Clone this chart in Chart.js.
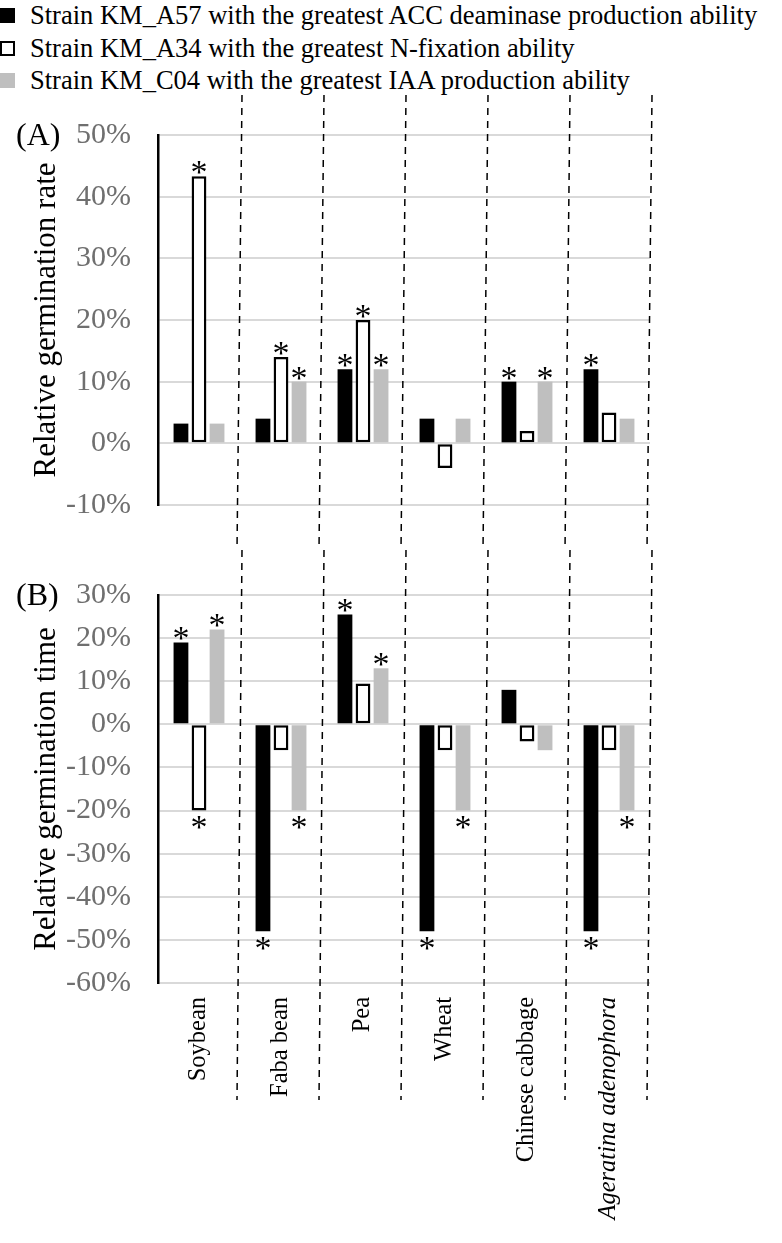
<!DOCTYPE html>
<html><head><meta charset="utf-8">
<script src="https://cdn.jsdelivr.net/npm/chart.js@4/dist/chart.umd.min.js"></script>
<style>
body{margin:0;width:782px;height:1243px;position:relative;background:#fff;font-family:"Liberation Serif",serif;overflow:hidden}
.lg{position:absolute;left:0;font-size:26.5px;color:#000;white-space:nowrap}
.sq{display:inline-block;width:15px;height:15px;margin-right:15px;vertical-align:1px;box-sizing:border-box}
#ca{position:absolute;left:0;top:90px}
#cb{position:absolute;left:0;top:550px}
</style></head><body>
<div class="lg" style="top:0px"><span class="sq" style="background:#000"></span>Strain KM_A57 with the greatest ACC deaminase production ability</div>
<div class="lg" style="top:33px"><span class="sq" style="border:2px solid #000;background:#fff"></span>Strain KM_A34 with the greatest N-fixation ability</div>
<div class="lg" style="top:65px"><span class="sq" style="background:#bfbfbf"></span>Strain KM_C04 with the greatest IAA production ability</div>
<canvas id="ca" width="782" height="460"></canvas>
<canvas id="cb" width="782" height="693"></canvas>
<script>
const categories=["Soybean","Faba bean","Pea","Wheat","Chinese cabbage","Ageratina adenophora"];
const seriesNames=["Strain KM_A57","Strain KM_A34","Strain KM_C04"];
const rateA57=[3.2,4,12,4,10,12];
const rateA34=[43.3,14,20,-4,2,5];
const rateC04=[3.2,10,12,4,10,4];
const rateSig=[[0,0,1,0,1,1],[1,1,1,0,0,0],[0,1,1,0,1,0]];
const timeA57=[19,-48,25.5,-48,8,-48];
const timeA34=[-20,-6,9.5,-6,-4,-6];
const timeC04=[22,-20,13,-20,-6,-20];
const timeSig=[[1,1,1,1,0,1],[1,0,0,0,0,0],[1,1,1,1,0,1]];
const ticksA=[-10,0,10,20,30,40,50];
const ticksB=[-60,-50,-40,-30,-20,-10,0,10,20,30];

const SERIF='"Liberation Serif", serif';
function ds(vals){
  return [
    {label:seriesNames[0],data:vals[0],backgroundColor:'#000',borderWidth:0},
    {label:seriesNames[1],data:vals[1],backgroundColor:'#fff',borderColor:'#000',borderWidth:2.5,borderSkipped:false},
    {label:seriesNames[2],data:vals[2],backgroundColor:'#bfbfbf',borderWidth:0}
  ].map(d=>Object.assign(d,{categoryPercentage:0.66,barPercentage:0.82}));
}
function deco(tag,sig,dashEnd){
  return {id:'deco'+tag,afterDatasetsDraw(c){
    const g=c.ctx,a=c.chartArea;
    g.save();
    g.fillStyle='#000';g.font='34px '+SERIF;g.textAlign='center';g.textBaseline='top';
    sig.forEach((row,di)=>{
      const m=c.getDatasetMeta(di);
      row.forEach((s,i)=>{
        if(!s)return;
        const el=m.data[i],v=c.data.datasets[di].data[i];
        if(v>=0) g.fillText('*',el.x,el.y-19);
        else g.fillText('*',el.x,el.y+2);
      });
    });
    g.strokeStyle='#000';g.lineWidth=1.5;g.setLineDash([7,6]);
    const w=(a.right-a.left)/6;
    for(let i=1;i<=6;i++){
      const x=a.left+i*w;
      g.beginPath();g.moveTo(x+2,dashEnd[0]);g.lineTo(x-3,dashEnd[1]);g.stroke();
    }
    g.setLineDash([]);
    g.font='32px '+SERIF;g.textAlign='left';g.textBaseline='middle';
    g.fillText(tag,16,a.top+2);
    g.restore();
  }};
}
function opts(min,max,ticks,title,showX){
  return {
    responsive:false,animation:false,
    layout:{padding:{top:37,right:132,bottom:showX?0:23,left:0}},
    plugins:{legend:{display:false},tooltip:{enabled:false}},
    scales:{
      x:{display:showX,grid:{display:false},border:{display:false},
        ticks:{maxRotation:90,minRotation:90,color:'#000',padding:6,
          font:(ctx)=>({family:SERIF,size:24.5,style:ctx.index===5?'italic':'normal'})},
        afterFit(s){if(showX)s.height=260;}},
      y:{min:min,max:max,
        afterBuildTicks(s){s.ticks=ticks.map(v=>({value:v}));},
        afterFit(s){s.width=158;},
        grid:{color:'#d9d9d9',lineWidth:2,drawTicks:false},
        border:{color:'#000',width:2.5},
        ticks:{color:'#6f6f6f',padding:27,font:{family:SERIF,size:30},callback:v=>v+'%'},
        title:{display:true,text:title,color:'#000',font:{family:SERIF,size:31},padding:{top:28,bottom:0}}}
    }
  };
}
new Chart(document.getElementById('ca'),{type:'bar',
  data:{labels:categories,datasets:ds([rateA57,rateA34,rateC04])},
  options:opts(-10,50,ticksA,'Relative germination rate',false),
  plugins:[deco('(A)',rateSig,[5,460])]});
new Chart(document.getElementById('cb'),{type:'bar',
  data:{labels:categories,datasets:ds([timeA57,timeA34,timeC04])},
  options:opts(-60,30,ticksB,'Relative germination time',true),
  plugins:[deco('(B)',timeSig,[0,550])]});
</script></body></html>
